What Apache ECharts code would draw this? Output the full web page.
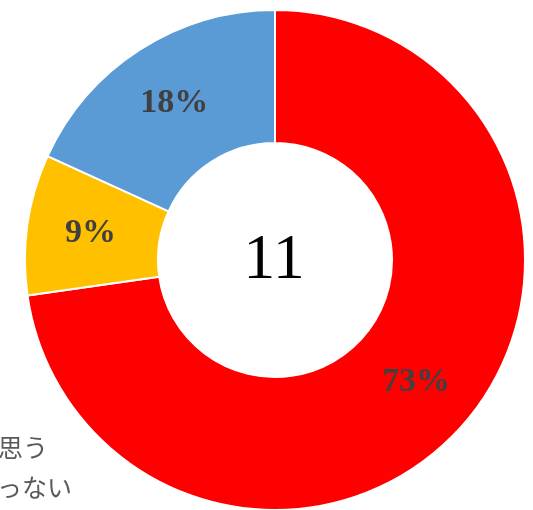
<!DOCTYPE html>
<html>
<head>
<meta charset="utf-8">
<script src="https://cdn.jsdelivr.net/npm/echarts@6/dist/echarts.min.js"></script>
<style>
  html, body { margin: 0; padding: 0; background: #ffffff; }
  #chart { width: 533px; height: 510px; }
</style>
</head>
<body>
<div id="chart"></div>
<script>
// Answer counts (total shown in the middle of the ring)
const categories = ['そう思う', 'どちらともいえない', 'そう思わない'];
const counts = [8, 1, 2];
const colors = ['#FF0000', '#FFC000', '#5B9BD5'];
const legendLines = ['思う', 'っない'];

const total = counts.reduce((a, b) => a + b, 0);

const chart = echarts.init(document.getElementById('chart'));
chart.setOption({
  animation: false,
  series: [{
    type: 'pie',
    center: [275, 260],
    radius: [117, 250],
    startAngle: 90,
    clockwise: true,
    percentPrecision: 0,
    avoidLabelOverlap: false,
    itemStyle: { borderColor: '#ffffff', borderWidth: 2 },
    label: {
      show: true,
      position: 'inside',
      formatter: '{d}%',
      fontFamily: 'Liberation Serif, Times New Roman, serif',
      fontWeight: 'bold',
      fontSize: 34,
      color: '#404040'
    },
    labelLine: { show: false },
    emphasis: { disabled: true },
    data: categories.map((name, i) => ({
      name: name,
      value: counts[i],
      itemStyle: { color: colors[i] }
    }))
  }],
  graphic: [
    {
      type: 'text',
      style: {
        text: String(total),
        x: 274, y: 261,
        align: 'center',
        verticalAlign: 'middle',
        fontFamily: 'Liberation Serif, Times New Roman, serif',
        fontSize: 64,
        fill: '#000000'
      }
    },
    {
      type: 'text',
      style: {
        text: legendLines[0],
        x: -2, y: 447,
        align: 'left',
        verticalAlign: 'middle',
        fontFamily: 'Noto Sans CJK JP, sans-serif',
        fontSize: 25,
        fill: '#595959'
      }
    },
    {
      type: 'text',
      style: {
        text: legendLines[1],
        x: -3, y: 487,
        align: 'left',
        verticalAlign: 'middle',
        fontFamily: 'Noto Sans CJK JP, sans-serif',
        fontSize: 25,
        fill: '#595959'
      }
    }
  ]
});
</script>
</body>
</html>
